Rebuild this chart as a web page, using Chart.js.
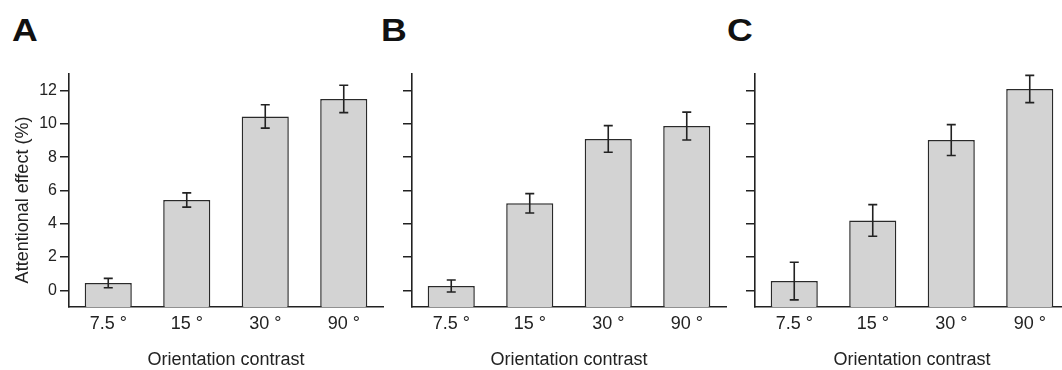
<!DOCTYPE html>
<html>
<head>
<meta charset="utf-8">
<script src="https://cdn.jsdelivr.net/npm/chart.js@4/dist/chart.umd.min.js"></script>
<style>
  body { margin: 0; background: #fff; overflow: hidden; }
  #wrap { position: relative; width: 1062px; height: 370px; overflow: hidden; }
  canvas { position: absolute; top: 0; }
  .lettre { position: absolute; top: 15px; font: bold 31px "Liberation Sans", Arial, sans-serif; line-height: 31px;
            color: #111; transform: scaleX(1.15); transform-origin: left top; }
</style>
</head>
<body>
<div id="wrap">
  <div class="lettre" style="left:12px">A</div>
  <div class="lettre" style="left:381px">B</div>
  <div class="lettre" style="left:727px">C</div>
  <canvas id="panelA" width="390" height="370" style="left:0px"></canvas>
  <canvas id="panelB" width="390" height="370" style="left:343px"></canvas>
  <canvas id="panelC" width="390" height="370" style="left:686px"></canvas>
</div>
<script>
// donnees
const categories = ['7.5 °', '15 °', '30 °', '90 °'];
const moyA = [0.44, 5.43, 10.45, 11.5];
const errA = [0.28, 0.43, 0.7, 0.82];
const moyB = [0.26, 5.23, 9.1, 9.87];
const errB = [0.36, 0.58, 0.8, 0.84];
const moyC = [0.56, 4.2, 9.03, 12.1];
const errC = [1.13, 0.95, 0.93, 0.82];
const yTicks = [0, 2, 4, 6, 8, 10, 12];
const yMin = -1;
const yMax = 13;

const police = '"Liberation Sans", Arial, Helvetica, sans-serif';
const noir = '#222';

// barres d'erreur dessinees a partir de l'echelle y
const errorBars = {
    id: 'errorBars',
    afterDatasetsDraw(chart, args, opts) {
        const ctx = chart.ctx;
        const y = chart.scales.y;
        const meta = chart.getDatasetMeta(0);
        const moy = chart.data.datasets[0].data;
        ctx.save();
        ctx.strokeStyle = noir;
        ctx.lineWidth = 1.6;
        meta.data.forEach((bar, i) => {
            const haut = y.getPixelForValue(moy[i] + opts.err[i]);
            const bas = y.getPixelForValue(moy[i] - opts.err[i]);
            ctx.beginPath();
            ctx.moveTo(bar.x, haut);
            ctx.lineTo(bar.x, bas);
            ctx.moveTo(bar.x - 4.5, haut);
            ctx.lineTo(bar.x + 4.5, haut);
            ctx.moveTo(bar.x - 4.5, bas);
            ctx.lineTo(bar.x + 4.5, bas);
            ctx.stroke();
        });
        ctx.restore();
    }
};

// titre de l'axe y (seulement panneau A)
const yTitre = {
    id: 'yTitre',
    afterDraw(chart, args, opts) {
        if (!opts.text) return;
        const ctx = chart.ctx;
        ctx.save();
        ctx.translate(28, 200);
        ctx.rotate(-Math.PI / 2);
        ctx.font = '18px ' + police;
        ctx.fillStyle = noir;
        ctx.textAlign = 'center';
        ctx.textBaseline = 'alphabetic';
        ctx.fillText(opts.text, 0, 0);
        ctx.restore();
    }
};

function faireGraphique(id, moy, err, avecLabels) {
    const ctx = document.getElementById(id).getContext('2d');
    return new Chart(ctx, {
        type: 'bar',
        data: {
            labels: categories,
            datasets: [{
                data: moy,
                base: yMin,
                backgroundColor: '#d3d3d3',
                borderColor: '#2a2a2a',
                borderWidth: 1.5,
                borderSkipped: 'start',
                categoryPercentage: 1,
                barPercentage: 0.6
            }]
        },
        options: {
            responsive: false,
            animation: false,
            devicePixelRatio: 1,
            layout: { padding: { top: 74, right: 7, left: 0, bottom: 0 } },
            plugins: {
                legend: { display: false },
                tooltip: { enabled: false },
                errorBars: { err: err },
                yTitre: { text: avecLabels ? 'Attentional effect (%)' : '' }
            },
            scales: {
                x: {
                    grid: { display: true, drawOnChartArea: false, drawTicks: false },
                    border: { display: true, color: noir, width: 1.6 },
                    ticks: { color: noir, font: { family: police, size: 18 }, padding: 6 },
                    title: {
                        display: true,
                        text: 'Orientation contrast',
                        color: noir,
                        font: { family: police, size: 18, lineHeight: 1.1 },
                        padding: { top: 0, bottom: 0 }
                    },
                    afterFit: function(scale) { scale.height = 63; }
                },
                y: {
                    min: yMin,
                    max: yMax,
                    grid: { drawOnChartArea: false, drawTicks: true, tickLength: 9, color: noir, lineWidth: 1.5 },
                    border: { display: true, color: noir, width: 1.6 },
                    ticks: { display: avecLabels, color: noir, font: { family: police, size: 16 }, padding: 3 },
                    afterBuildTicks: function(scale) {
                        scale.ticks = yTicks.map(v => ({ value: v }));
                    },
                    afterFit: function(scale) { scale.width = 69; }
                }
            }
        },
        plugins: [errorBars, yTitre]
    });
}

faireGraphique('panelA', moyA, errA, true);
faireGraphique('panelB', moyB, errB, false);
faireGraphique('panelC', moyC, errC, false);
</script>
</body>
</html>
